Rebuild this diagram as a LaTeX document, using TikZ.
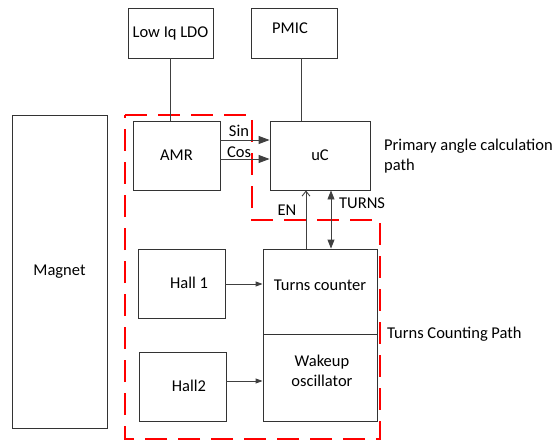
\documentclass[tikz,border=0pt]{standalone}
\usepackage{fontspec}
\setmainfont{Carlito}
\usetikzlibrary{arrows.meta}
\begin{document}
\begin{tikzpicture}[x=1pt,y=-1pt,
  box/.style={draw=black!80, line width=0.9pt, inner sep=0pt, font=\fontsize{16.5}{19}\selectfont},
  txt/.style={inner sep=0pt, font=\fontsize{16.5}{20}\selectfont},
  conn/.style={draw=black!75, line width=0.9pt},
  bigtip/.style={-{Triangle[length=11pt,width=8pt]}},
  smalltip/.style={-{Triangle[length=7pt,width=5pt]}},
  redpath/.style={draw=red, line width=2.6pt, dash pattern=on 22pt off 11pt}
]
\useasboundingbox (0,0) rectangle (557,441);

% red dashed region
\draw[redpath] (125,115) -- (252,115) -- (252,220) -- (380,220) -- (380,439) -- (125,439) -- cycle;

\node[box, minimum width=85pt, minimum height=50pt] (ldo) at (170.5,33) {Low Iq LDO};
\node[box, minimum width=86pt, minimum height=50pt] (pmic) at (294,33) {};
\node[txt] (pmict) at (290,28) {PMIC};
\node[box, minimum width=95pt, minimum height=313pt] (mag) at (59.5,271.5) {Magnet};
\node[box, minimum width=87pt, minimum height=69pt] (amr) at (176.5,155.5) {AMR};
\node[box, minimum width=100pt, minimum height=69pt] (uc) at (320,155.5) {uC};
\node[box, minimum width=114pt, minimum height=85pt] (tc) at (320,291.5) {};
\node[txt] (tct) at (320,285) {Turns counter};
\node[box, minimum width=114pt, minimum height=87pt] (wo) at (320,377.5) {};
\node[txt, align=center] (wot) at (322,371) {Wakeup\\oscillator};
\node[box, minimum width=87pt, minimum height=69pt] (h1) at (181.5,283.5) {};
\node[txt] (h1t) at (189,283) {Hall 1};
\node[box, minimum width=87pt, minimum height=69pt] (h2) at (182.5,386.5) {};
\node[txt] (h2t) at (189,386) {Hall2};

% connectors
\draw[conn] (ldo.south) -- (amr.north -| ldo.south);
\draw[conn] (pmic.south -| 301,0) -- (uc.north -| 301,0);
\draw[conn, bigtip] (amr.east |- 0,140) -- (uc.west |- 0,140);
\draw[conn, bigtip] (amr.east |- 0,159) -- (uc.west |- 0,159);
\draw[conn, -{Straight Barb[length=5pt,width=8pt]}] (tc.north -| 306,0) -- (uc.south -| 306,0);
\draw[conn, {Triangle[length=9pt,width=7pt]}-{Triangle[length=9pt,width=7pt]}] (uc.south -| 331,0) -- (tc.north -| 331,0);
\draw[conn, smalltip] (h1.east |- 0,284) -- (tc.west |- 0,284);
\draw[conn, smalltip] (h2.east |- 0,381) -- (wo.west |- 0,381);

% labels
\node[txt] (sin) at (239,131) {Sin};
\node[txt] (cos) at (239,152) {Cos};
\node[txt] (en) at (287,210) {EN};
\node[txt, anchor=west] (turns) at (339,203) {TURNS};
\node[txt, anchor=west, align=left] (prim) at (384,156) {Primary angle calculation\\path};
\node[txt, anchor=west] (tcp) at (387,334) {Turns Counting Path};
\end{tikzpicture}
\end{document}
